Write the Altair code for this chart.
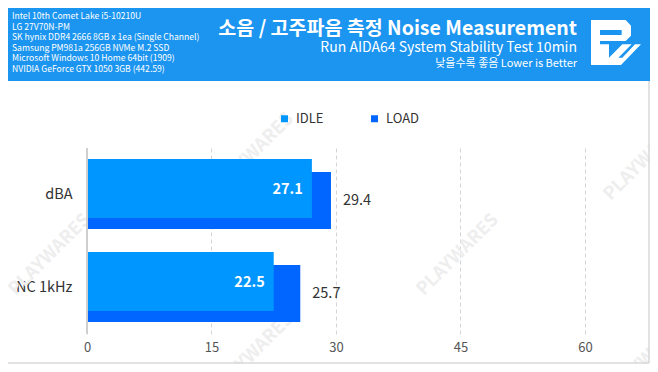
import altair as alt
import pandas as pd

# ---------------- data ----------------
categories = ["dBA", "NC 1kHz"]
series = ["IDLE", "LOAD"]
idle_values = [27.1, 22.5]
load_values = [29.4, 25.7]
x_ticks = [0, 15, 30, 45, 60]
spec_lines = [
    "Intel 10th Comet Lake i5-10210U",
    "LG 27V70N-PM",
    "SK hynix DDR4 2666 8GB x 1ea (Single Channel)",
    "Samsung PM981a 256GB NVMe M.2 SSD",
    "Microsoft Windows 10 Home 64bit (1909)",
    "NVIDIA GeForce GTX 1050 3GB (442.59)",
]
title_text = "소음 / 고주파음 측정 Noise Measurement"
subtitle_text = "Run AIDA64 System Stability Test 10min"
note_text = "낮을수록 좋음  Lower is Better"
watermark_text = "PLAYWARES"

# ---------------- style ----------------
FONT = "Noto Sans CJK KR"
IDLE_COLOR = "#0096ff"
LOAD_COLOR = "#0066ff"
BANNER = "#1b95f0"
W, H = 556, 186

df_idle = pd.DataFrame({"category": categories, "series": "IDLE", "value": idle_values})
df_load = pd.DataFrame({"category": categories, "series": "LOAD", "value": load_values})
one = pd.DataFrame({"a": [0]})

xs = alt.Scale(domain=[0, 67], nice=False, zero=True)
ys = alt.Scale(domain=categories, paddingInner=0, paddingOuter=0)
cs = alt.Scale(domain=series, range=[IDLE_COLOR, LOAD_COLOR])

legend = alt.Legend(
    orient="none", legendX=191, legendY=-36, direction="horizontal", title=None,
    symbolType="square", symbolSize=49, symbolStrokeWidth=0, labelFontSize=13,
    labelColor="#333333", labelFont=FONT, columnPadding=44, labelOffset=5, padding=0,
)

x_axis = alt.Axis(
    values=x_ticks, grid=True, gridDash=[4, 3], gridColor="#d4d4d4", domain=False,
    ticks=False, labelColor="#555555", labelFontSize=13, labelFont=FONT,
    labelPadding=7, labelFlush=False, title=None,
)
y_axis = alt.Axis(
    title=None, domain=False, ticks=False, grid=False, labelFontSize=14.5,
    labelColor="#333333", labelPadding=15, labelFont=FONT,
)

# watermarks (decoration)
wm = pd.DataFrame({"px": [-37, 166, 166, 371, 558, 561], "py": [107, 6, 206, 107, 12, 210]})
watermarks = alt.Chart(wm).mark_text(
    text=watermark_text, angle=315, font=FONT, fontWeight="bold", fontSize=18,
    color="#eeeeee",
).encode(x=alt.X("px:Q", scale=None), y=alt.Y("py:Q", scale=None))

load_bar = alt.Chart(df_load).mark_bar(size=57, yOffset=6).encode(
    x=alt.X("value:Q", scale=xs, axis=x_axis),
    y=alt.Y("category:N", scale=ys, axis=y_axis, sort=categories),
    color=alt.Color("series:N", scale=cs, legend=legend),
)
idle_bar = alt.Chart(df_idle).mark_bar(size=59, yOffset=-6).encode(
    x=alt.X("value:Q", scale=xs),
    y=alt.Y("category:N", scale=ys, sort=categories),
    color=alt.Color("series:N", scale=cs, legend=legend),
)
zero_rule = alt.Chart(one).mark_rule(color="#cfcfcf", strokeWidth=2).encode(x=alt.datum(0, scale=xs))

idle_text = alt.Chart(df_idle).mark_text(
    align="right", dx=-9, yOffset=-5, color="white", fontSize=14.5, fontWeight="bold", font=FONT,
).encode(
    x=alt.X("value:Q", scale=xs), y=alt.Y("category:N", scale=ys, sort=categories),
    text=alt.Text("value:Q", format=".1f"),
)
load_text = alt.Chart(df_load).mark_text(
    align="left", dx=12, yOffset=6, color="#333333", fontSize=14.5, font=FONT,
).encode(
    x=alt.X("value:Q", scale=xs), y=alt.Y("category:N", scale=ys, sort=categories),
    text=alt.Text("value:Q", format=".1f"),
)

# header
banner = alt.Chart(one).mark_rect(color=BANNER).encode(
    x=alt.value(-79), x2=alt.value(563), y=alt.value(-140), y2=alt.value(-67)
)
specs = alt.Chart(one).mark_text(
    align="left", baseline="top", lineHeight=10.5, fontSize=8.6, font=FONT, color="white",
).encode(x=alt.value(-75), y=alt.value(-136), text=alt.value(spec_lines))
title = alt.Chart(one).mark_text(
    align="right", baseline="middle", fontSize=19.5, fontWeight="bold", font=FONT, color="white",
).encode(x=alt.value(490), y=alt.value(-119), text=alt.value(title_text))
subtitle = alt.Chart(one).mark_text(
    align="right", baseline="middle", fontSize=14, font=FONT, color="white",
).encode(x=alt.value(490), y=alt.value(-100), text=alt.value(subtitle_text))
note = alt.Chart(one).mark_text(
    align="right", baseline="middle", fontSize=11, font=FONT, color="white",
).encode(x=alt.value(490), y=alt.value(-84), text=alt.value(note_text))

# logo path (drawn in a 3x zoom frame, normalised to [-1, 1])
P_outer = [(18, 15), (122, 15), (138, 32), (138, 62), (122, 78), (45, 78), (45, 150), (18, 150)]
P_hole = [(45, 45), (45, 60), (110, 60), (110, 45)]
W_shape = [(45, 88), (72, 88), (72, 128), (112, 88), (140, 88), (100, 128), (112, 128),
           (150, 88), (168, 88), (108, 150), (45, 150)]


def sub(pts):
    s = ""
    for i, (px, py) in enumerate(pts):
        s += ("M" if i == 0 else "L") + f"{(px - 93) / 75:.3f},{(py - 82.5) / 75:.3f} "
    return s + "Z "


logo_path = sub(P_outer) + sub(P_hole) + sub(W_shape)
logo = alt.Chart(one).mark_point(
    shape=logo_path, filled=True, color="white", size=2500, opacity=1, strokeWidth=0,
).encode(x=alt.value(529), y=alt.value(-105.5))

frame_r = alt.Chart(one).mark_rule(color="#d8d8d8", strokeWidth=1.5).encode(
    x=alt.value(562), x2=alt.value(562), y=alt.value(-67), y2=alt.value(215)
)
frame_b = alt.Chart(one).mark_rule(color="#d8d8d8", strokeWidth=1.5).encode(
    x=alt.value(-79), x2=alt.value(562), y=alt.value(215), y2=alt.value(215)
)

chart = alt.layer(
    watermarks, load_bar, idle_bar, zero_rule, idle_text, load_text,
    banner, specs, title, subtitle, note, logo, frame_r, frame_b,
).properties(
    width=W, height=H,
    autosize=alt.AutoSizeParams(type="none"),
    padding={"left": 79, "top": 140, "right": 7, "bottom": 30},
    background="white",
).configure_view(stroke=None)

chart.save("out.html", embed_options={"renderer": "svg", "actions": False})
